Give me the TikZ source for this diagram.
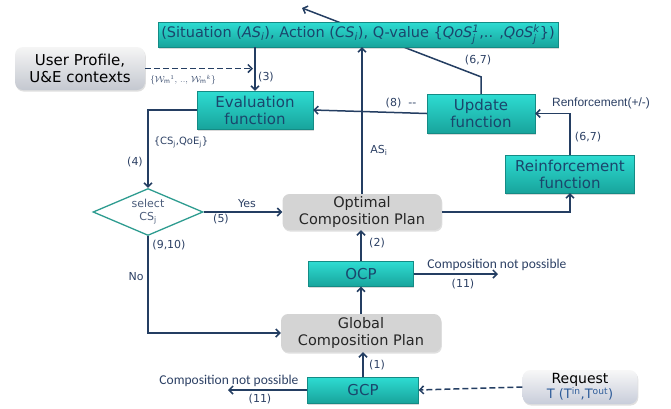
\documentclass[tikz,border=0pt]{standalone}
\usepackage{amsmath}
\usepackage{fontspec}
\setmainfont{DejaVu Sans}
\newfontfamily\calfont{Carlito}
\newfontfamily\arifont{Liberation Sans}
\usetikzlibrary{shapes.geometric,arrows.meta,shadows,backgrounds}
\definecolor{navy}{RGB}{36,62,98}
\definecolor{tealtop}{RGB}{46,220,210}
\definecolor{tealbot}{RGB}{24,164,156}
\definecolor{boxtxt}{RGB}{26,70,108}
\definecolor{lblcol}{RGB}{44,64,100}
\definecolor{planfill}{RGB}{212,212,212}
\definecolor{dmdline}{RGB}{46,156,144}
\definecolor{reqblue}{RGB}{46,92,154}
\newcommand{\qosj}[1]{\textit{QoS}$_{\textit{j}}^{\textit{#1}}$}

\tikzset{
  tealbox/.style={rectangle, top color=tealtop, bottom color=tealbot, draw=tealbot!85!black,
    line width=0.3pt, text=boxtxt, align=center, inner sep=0pt,
    font=\fontsize{15}{17}\selectfont,
    drop shadow={shadow xshift=0.8pt, shadow yshift=-1.6pt, opacity=0.3}},
  planbox/.style={rectangle, rounded corners=7pt, fill=planfill, text=black!85, align=center,
    inner sep=0pt, font=\fontsize{14.5}{16.5}\selectfont,
    drop shadow={shadow xshift=0.8pt, shadow yshift=-1.6pt, opacity=0.25}},
  softbox/.style={rectangle, rounded corners=8pt, align=center, inner sep=0pt,
    drop shadow={shadow xshift=0.8pt, shadow yshift=-1.6pt, opacity=0.25}},
  choice/.style={diamond, aspect=2.3, draw=dmdline, line width=1.3pt, fill=white,
    inner sep=0pt, align=center, text=lblcol!85, font=\fontsize{11}{13}\selectfont},
  flow/.style={draw=navy, line width=1.5pt, -{Straight Barb[length=4pt,width=8pt]}},
  hint/.style={draw=navy, line width=1.5pt, dash pattern=on 6pt off 3pt,
    -{Straight Barb[length=4pt,width=8pt]}},
  lbl/.style={text=lblcol, inner sep=0pt, font=\fontsize{11}{13}\selectfont},
  cnp/.style={text=lblcol, inner sep=0pt, font=\calfont\fontsize{13.5}{15}\selectfont},
}

\begin{document}
\begin{tikzpicture}[x=1pt,y=-1pt]
\useasboundingbox (0,0) rectangle (671,408);

% boxes
\node[tealbox, minimum width=400pt, minimum height=25pt, font=\fontsize{14.5}{16}\selectfont] (qtab) at (358,34.5)
  {(Situation (\textit{AS}$_{\textit{i}}$), Action (\textit{CS}$_{\textit{i}}$), Q-value \{\qosj{1},.. ,\qosj{k}\})};
\node[softbox, top color=black!4, bottom color={rgb,255:red,196;green,200;blue,208},
  minimum width=130pt, minimum height=43pt, font=\fontsize{15}{17}\selectfont] (prof) at (80,68.5)
  {User Profile,\\U\&E contexts};
\node[tealbox, minimum width=116pt, minimum height=38pt] (eval) at (255,110) {Evaluation\\function};
\node[tealbox, minimum width=108pt, minimum height=39pt] (upd) at (481,113.5) {Update\\function};
\node[tealbox, minimum width=129pt, minimum height=38pt] (reinf) at (570,174) {Reinforcement\\function};
\node[choice, minimum width=110pt, minimum height=47pt] (sel) at (148,212) {select\\CS\textsubscript{j}};
\node[planbox, minimum width=159pt, minimum height=36pt] (opt) at (362,212) {Optimal\\Composition Plan};
\node[tealbox, minimum width=105pt, minimum height=25pt] (ocp) at (361,274) {OCP};
\node[planbox, minimum width=160pt, minimum height=38pt] (glob) at (361,333) {Global\\Composition Plan};
\node[tealbox, minimum width=111pt, minimum height=26pt] (gcp) at (363,390) {GCP};
\node[softbox, top color=black!3, bottom color={rgb,255:red,200;green,205;blue,218},
  minimum width=115pt, minimum height=34pt, font=\fontsize{14}{15}\selectfont] (req) at (580,387)
  {Request\\{\color{reqblue}\fontsize{13}{14}\selectfont T (T\textsuperscript{in},T\textsuperscript{out})}};

% free ends
\coordinate (qtip) at (302,8);
\coordinate (ocpend) at (498,274);
\coordinate (gcpend) at (228,390);

% connectors
\draw[flow] (eval.north |- qtab.south) -- (eval.north);
\draw[hint, shorten >=2pt] (prof.east) -- (eval.north |- prof.east);
\draw[flow] (upd.west) -- (eval.east);
\draw[flow] (reinf.north) |- (upd.east);
\begin{scope}[on background layer]
\draw[flow] (upd.north) -- ++(0,-17) -- (qtip);
\end{scope}
\draw[flow] (eval.west) -| (sel.north);
\draw[flow] (sel.east) -- (opt.west);
\draw[flow] (sel.south) |- (glob.west);
\draw[flow] (opt.north) -- (opt.north |- qtab.south);
\draw[flow] (opt.east) -| (reinf.south);
\draw[flow] (ocp.north) -- (ocp.north |- opt.south);
\draw[flow] (glob.north) -- (glob.north |- ocp.south);
\draw[flow] (gcp.north) -- (gcp.north |- glob.south);
\draw[flow] (ocp.east) -- (ocpend);
\draw[flow] (gcp.west) -- (gcpend);
\draw[hint] (req.west) -- (gcp.east);

% labels
\node[lbl] (l3) at (266,77) {(3)};
\node[text=lblcol, inner sep=0pt, font=\fontsize{9}{10}\selectfont] (lw) at (183,80)
  {$\{\mathcal{W}_{\mathrm{m}}{}^{1},\,..,\,\mathcal{W}_{\mathrm{m}}{}^{k}\}$};
\node[lbl] (l8) at (401,103) {(8)\ \ -{}-};
\node[lbl, font=\arifont\fontsize{12}{14}\selectfont] (lrf) at (601,103) {Renforcement(+/-)};
\node[lbl] (l67a) at (588,137) {(6,7)};
\node[lbl] (l67b) at (478,60) {(6,7)};
\node[lbl, font=\fontsize{10}{12}\selectfont] (lcq) at (181,142) {\{CS\textsubscript{j},QoE\textsubscript{j}\}};
\node[lbl] (l4) at (135,162) {(4)};
\node[lbl] (lyes) at (247,204) {Yes};
\node[lbl] (l5) at (221,219) {(5)};
\node[lbl] (l910) at (169,245) {(9,10)};
\node[lbl] (lno) at (136,277) {No};
\node[lbl] (las) at (379,150) {AS\textsubscript{i}};
\node[lbl] (l2) at (377,243) {(2)};
\node[lbl] (l1) at (377,365) {(1)};
\node[cnp] (lcnp1) at (497,265) {Composition not possible};
\node[lbl] (l11a) at (463,284) {(11)};
\node[cnp] (lcnp2) at (229,381) {Composition not possible};
\node[lbl] (l11b) at (260,399) {(11)};
\end{tikzpicture}
\end{document}
